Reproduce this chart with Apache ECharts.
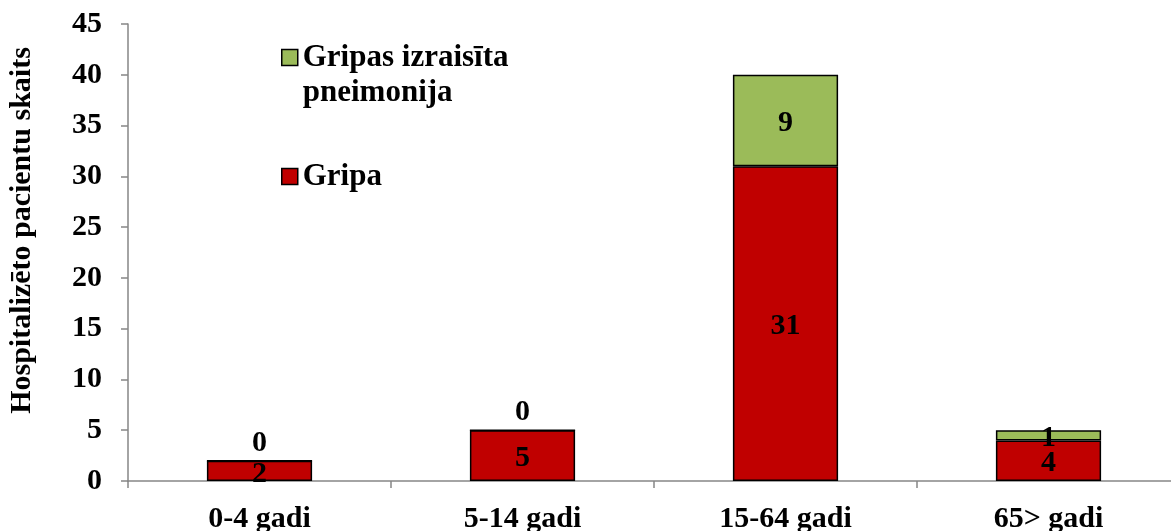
<!DOCTYPE html>
<html>
<head>
<meta charset="utf-8">
<script src="https://cdn.jsdelivr.net/npm/echarts@6/dist/echarts.min.js"></script>
<style>
    html, body {
        margin: 0;
        padding: 0;
        background: #fff;
    }
    #chart {
        width: 1171px;
        height: 531px;
    }
</style>
</head>
<body>
<div id="chart"></div>
<script>
// vecuma grupas
const categories = ['0-4 gadi', '5-14 gadi', '15-64 gadi', '65> gadi']
const gripaValues = [2, 5, 31, 4]
const pneimonijaValues = [0, 0, 9, 1]
const yTicks = [0, 45, 5] // min, max, solis

const serif = '"Liberation Serif", "Times New Roman", serif'
const axisColor = '#868686'
const fontSize = 30

// nulles vērtībām uzraksts virs stabiņa
function toItems(values) {
    return values.map(v => {
        if (v === 0) {
            return { value: v, label: { position: 'top', distance: 5 } }
        }
        return v
    })
}

const chart = echarts.init(document.getElementById('chart'))
const legendText = {
    fontFamily: serif,
    fontWeight: 'bold',
    fontSize: 31,
    lineHeight: 35,
    color: '#000'
}
const options = {
    animation: false,
    grid: {
        left: 128,
        right: -9,
        top: 24,
        bottom: 50,
        outerBoundsMode: 'none'
    },
    legend: [
        {
            data: ['Gripas izraisīta\npneimonija'],
            // tukša pirmā rinda, lai ikona būtu pie pirmās rindas
            formatter: name => '\n' + name,
            left: 281,
            top: 5,
            padding: 0,
            icon: 'rect',
            itemWidth: 16,
            itemHeight: 16,
            selectedMode: false,
            textStyle: legendText,
            itemStyle: { borderColor: '#000', borderWidth: 1.5 }
        },
        {
            data: ['Gripa'],
            left: 281,
            top: 159,
            padding: 0,
            icon: 'rect',
            itemWidth: 16,
            itemHeight: 16,
            selectedMode: false,
            textStyle: legendText,
            itemStyle: { borderColor: '#000', borderWidth: 1.5 }
        }
    ],
    xAxis: {
        type: 'category',
        data: categories,
        axisLine: { show: true, lineStyle: { color: axisColor, width: 1.5 } },
        axisTick: { show: true, length: 7, lineStyle: { color: axisColor, width: 1.5 } },
        axisLabel: {
            margin: 23,
            color: '#000',
            fontFamily: serif,
            fontWeight: 'bold',
            fontSize: fontSize
        }
    },
    yAxis: {
        type: 'value',
        min: yTicks[0],
        max: yTicks[1],
        interval: yTicks[2],
        name: 'Hospitalizēto pacientu skaits',
        nameLocation: 'middle',
        nameRotate: 90,
        nameGap: 91,
        nameTextStyle: {
            color: '#000',
            fontFamily: serif,
            fontWeight: 'bold',
            fontSize: fontSize,
            padding: [0, 0, 0, 44]
        },
        splitLine: { show: false },
        axisLine: { show: true, lineStyle: { color: axisColor, width: 1.5 } },
        axisTick: { show: true, length: 7, lineStyle: { color: axisColor, width: 1.5 } },
        axisLabel: {
            margin: 26,
            color: '#000',
            fontFamily: serif,
            fontWeight: 'bold',
            fontSize: fontSize
        }
    },
    series: [
        {
            name: 'Gripa',
            type: 'bar',
            stack: 'kopa',
            barWidth: '40%',
            data: toItems(gripaValues),
            itemStyle: { color: '#C00000', borderColor: '#000', borderWidth: 1.5 },
            label: {
                show: true,
                position: 'inside',
                offset: [0, 3],
                color: '#000',
                fontFamily: serif,
                fontWeight: 'bold',
                fontSize: fontSize
            }
        },
        {
            name: 'Gripas izraisīta\npneimonija',
            type: 'bar',
            stack: 'kopa',
            barWidth: '40%',
            data: toItems(pneimonijaValues),
            itemStyle: { color: '#9BBB59', borderColor: '#000', borderWidth: 1.5 },
            label: {
                show: true,
                position: 'inside',
                offset: [0, 3],
                color: '#000',
                fontFamily: serif,
                fontWeight: 'bold',
                fontSize: fontSize
            }
        }
    ]
}
chart.setOption(options)
</script>
</body>
</html>
